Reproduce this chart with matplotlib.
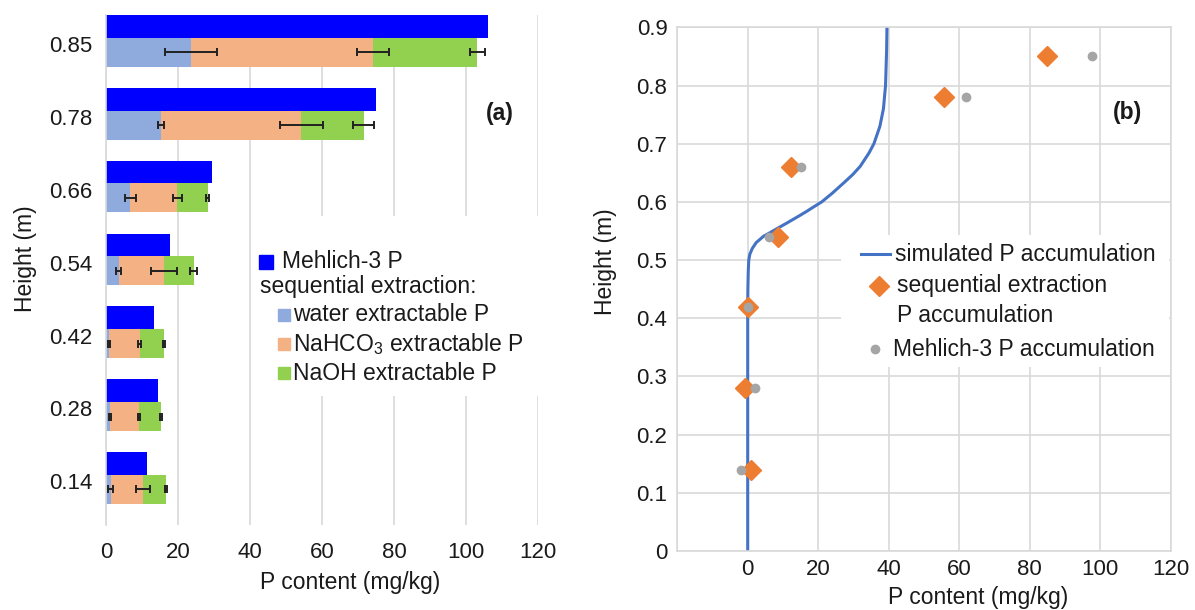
import matplotlib.pyplot as plt
from matplotlib.patches import Rectangle
import numpy as np

# 폰트 설정 (Arial 대체)
plt.rcParams['font.family'] = ['Liberation Sans', 'DejaVu Sans']
plt.rcParams['mathtext.fontset'] = 'custom'
plt.rcParams['mathtext.rm'] = 'Liberation Sans'

# ---- (a) 데이터 : 아래(0.14)부터 위(0.85)까지 ----
heights = ['0.14', '0.28', '0.42', '0.54', '0.66', '0.78', '0.85']
mehlich = [11.3, 14.3, 13.2, 17.8, 29.3, 75.0, 105.9]
water = [1.3, 1.0, 0.8, 3.5, 6.8, 15.2, 23.6]
nahco3 = [8.9, 8.1, 8.5, 12.6, 13.0, 39.0, 50.6]
naoh = [6.4, 6.1, 6.7, 8.2, 8.4, 17.3, 28.8]
water_err = [0.7, 0.3, 0.3, 0.8, 1.5, 0.8, 7.1]
nahco3_err = [2.0, 0.3, 0.3, 3.6, 1.2, 5.9, 4.4]
naoh_err = [0.3, 0.3, 0.3, 1.0, 0.5, 3.0, 2.1]
x_ticks_a = [0, 20, 40, 60, 80, 100, 120]

# ---- (b) 데이터 ----
sim_height = [0.0, 0.42, 0.45, 0.48, 0.50, 0.51, 0.52, 0.53, 0.541, 0.547, 0.553,
              0.564, 0.576, 0.584, 0.5925, 0.60, 0.615, 0.633, 0.647, 0.661,
              0.684, 0.70, 0.73, 0.76, 0.80, 0.86, 0.90]
sim_p = [0.0, 0.0, 0.05, 0.15, 0.3, 0.6, 1.3, 2.4, 4.5, 6.3, 8.0,
         11.2, 14.6, 16.8, 19.0, 21.0, 24.0, 27.3, 29.8, 31.9,
         34.4, 35.8, 37.5, 38.5, 39.1, 39.4, 39.5]
sample_height = [0.14, 0.28, 0.42, 0.54, 0.66, 0.78, 0.85]
seq_acc = [0.9, -0.7, 0.0, 8.7, 12.3, 55.7, 84.9]
m3_acc = [-1.9, 2.2, 0.1, 6.0, 15.0, 62.0, 97.8]
x_ticks_b = [-20, 0, 20, 40, 60, 80, 100, 120]
x_labels_b = ['', '0', '20', '40', '60', '80', '100', '120']
y_ticks_b = [0, 0.1, 0.2, 0.3, 0.4, 0.5, 0.6, 0.7, 0.8, 0.9]
y_labels_b = ['0', '0.1', '0.2', '0.3', '0.4', '0.5', '0.6', '0.7', '0.8', '0.9']

c_m3 = '#0000FF'
c_water = '#8FAADC'
c_bicarb = '#F4B183'
c_naoh = '#92D050'
c_sim = '#4472C4'
c_seq = '#ED7D31'
c_dot = '#A5A5A5'
grid_c = '#D9D9D9'
txt_c = '#1a1a1a'
fs = 16
lfs = 16.5

fig = plt.figure(figsize=(11.95, 6.10), dpi=100)

# ================= (a) =================
ax1 = fig.add_axes([0.0887, 0.1393, 0.3618, 0.836])
pos = np.arange(len(heights))
p_top = pos + 0.344
p_low = pos - 0.011

ax1.barh(p_top, mehlich, height=0.312, color=c_m3, zorder=2)
ax1.barh(p_low, water, height=0.398, color=c_water, zorder=2)
ax1.barh(p_low, nahco3, left=water, height=0.398, color=c_bicarb, zorder=2)
left3 = np.add(water, nahco3)
ax1.barh(p_low, naoh, left=left3, height=0.398, color=c_naoh, zorder=2)

# 오차 막대 (각 구간 끝에)
ebar = dict(fmt='none', ecolor='#222222', elinewidth=1.4, capsize=3, capthick=1.4, zorder=3)
ax1.errorbar(water, p_low, xerr=water_err, **ebar)
ax1.errorbar(left3, p_low, xerr=nahco3_err, **ebar)
ax1.errorbar(left3 + np.array(naoh), p_low, xerr=naoh_err, **ebar)

ax1.set_xlim(0, 120)
ax1.set_ylim(-0.5, 6.5)
ax1.set_xticks(x_ticks_a)
ax1.set_yticks(pos + 0.1, heights)
ax1.tick_params(axis='y', length=0, pad=10, labelsize=fs, labelcolor=txt_c)
ax1.tick_params(axis='x', length=0, pad=12, labelsize=fs, labelcolor=txt_c)
ax1.grid(axis='x', color=grid_c, lw=1.2)
ax1.set_axisbelow(True)
for s in ['top', 'right', 'bottom']:
    ax1.spines[s].set_visible(False)
ax1.spines['left'].set_color(grid_c)
ax1.spines['left'].set_linewidth(1.2)

ax1.set_xlabel('P content (mg/kg)', fontsize=lfs, color=txt_c, va='center')
ax1.xaxis.set_label_coords(0.564, -0.112)
ax1.set_ylabel('Height (m)', fontsize=lfs, color=txt_c, va='center')
ax1.yaxis.set_label_coords(-0.187, 0.523)
ax1.text(0.911, 0.807, '(a)', transform=ax1.transAxes, fontsize=lfs,
         fontweight='bold', ha='center', va='center', color=txt_c)

# 범례 (수동 배치)
tr1 = ax1.transAxes
ax1.add_patch(Rectangle((0.345, 0.253), 0.655, 0.353, transform=tr1,
                        facecolor='white', edgecolor='none', zorder=1.5))
ax1.plot([0.371], [0.516], 's', color=c_m3, ms=9.5, transform=tr1, clip_on=False)
ax1.text(0.406, 0.516, 'Mehlich-3 P', transform=tr1, fontsize=lfs, va='center', color=txt_c)
ax1.text(0.356, 0.467, 'sequential extraction:', transform=tr1, fontsize=lfs,
         va='center', color=txt_c)
leg_items = [(c_water, 'water extractable P', 0.412),
             (c_bicarb, 'NaHCO$_\\mathregular{3}$ extractable P', 0.355),
             (c_naoh, 'NaOH extractable P', 0.298)]
for col, lab, yy in leg_items:
    ax1.plot([0.4106], [yy], 's', color=col, ms=8, transform=tr1, clip_on=False)
    ax1.text(0.4326, yy, lab, transform=tr1, fontsize=lfs, va='center', color=txt_c)

# ================= (b) =================
ax2 = fig.add_axes([0.5667, 0.0967, 0.413, 0.8585])
ax2.plot(sim_p, sim_height, color=c_sim, lw=2.2, zorder=2)
ax2.plot(seq_acc, sample_height, 'D', color=c_seq, ms=10, zorder=3)
ax2.plot(m3_acc, sample_height, 'o', color=c_dot, ms=6, zorder=4)

ax2.set_xlim(-20, 120)
ax2.set_ylim(0, 0.9)
ax2.set_xticks(x_ticks_b, x_labels_b)
ax2.set_yticks(y_ticks_b, y_labels_b)
ax2.tick_params(axis='y', length=0, pad=7, labelsize=fs, labelcolor=txt_c)
ax2.tick_params(axis='x', length=0, pad=6, labelsize=fs, labelcolor=txt_c)
ax2.grid(color=grid_c, lw=1.2)
ax2.set_axisbelow(True)
for s in ax2.spines.values():
    s.set_color(grid_c)
    s.set_linewidth(1.2)

ax2.set_xlabel('P content (mg/kg)', fontsize=lfs, color=txt_c, va='center')
ax2.xaxis.set_label_coords(0.6095, -0.0897)
ax2.set_ylabel('Height (m)', fontsize=lfs, color=txt_c, va='center')
ax2.yaxis.set_label_coords(-0.146, 0.552)
ax2.text(0.913, 0.838, '(b)', transform=ax2.transAxes, fontsize=lfs,
         fontweight='bold', ha='center', va='center', color=txt_c)

# 범례 (수동 배치)
tr2 = ax2.transAxes
ax2.add_patch(Rectangle((0.332, 0.351), 0.664, 0.252, transform=tr2,
                        facecolor='white', edgecolor='none', zorder=4.5))
ax2.plot([0.3728, 0.4316], [0.567, 0.567], color=c_sim, lw=2.2, transform=tr2,
         clip_on=False, zorder=5)
ax2.text(0.441, 0.567, 'simulated P accumulation', transform=tr2, fontsize=lfs,
         va='center', color=txt_c, zorder=5)
ax2.plot([0.408], [0.5066], 'D', color=c_seq, ms=10, transform=tr2, clip_on=False, zorder=5)
ax2.text(0.4448, 0.5066, 'sequential extraction', transform=tr2, fontsize=lfs,
         va='center', color=txt_c, zorder=5)
ax2.text(0.4448, 0.4506, 'P accumulation', transform=tr2, fontsize=lfs,
         va='center', color=txt_c, zorder=5)
ax2.plot([0.400], [0.3857], 'o', color=c_dot, ms=6, transform=tr2, clip_on=False, zorder=5)
ax2.text(0.437, 0.3857, 'Mehlich-3 P accumulation', transform=tr2, fontsize=lfs,
         va='center', color=txt_c, zorder=5)

fig.savefig('out.png', dpi=100)
